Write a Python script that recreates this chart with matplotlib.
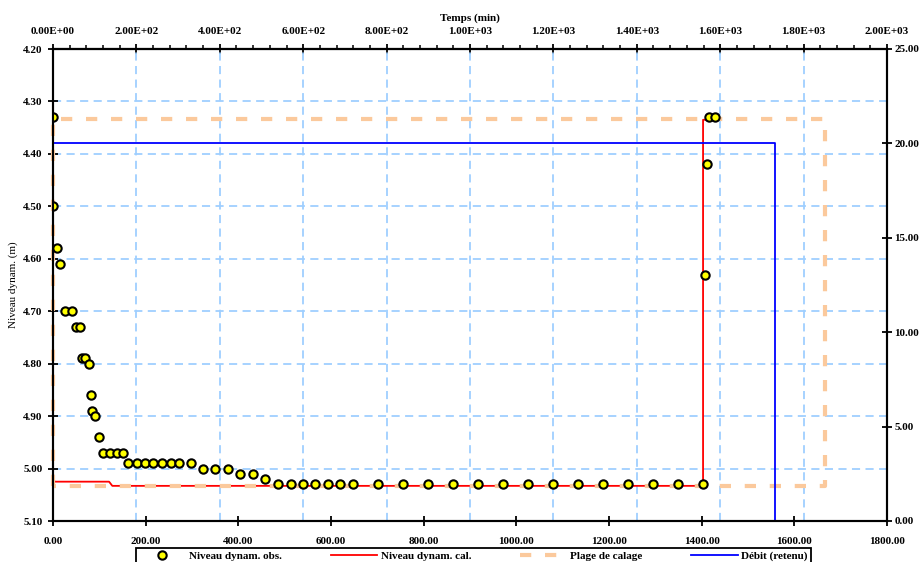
import matplotlib
matplotlib.use("Agg")
import matplotlib.pyplot as plt
from matplotlib.ticker import MultipleLocator, FormatStrFormatter, FuncFormatter

plt.rcParams['font.family'] = ['Liberation Serif', 'DejaVu Serif']
plt.rcParams['font.size'] = 8
plt.rcParams['font.weight'] = 'bold'

# niveaux observés (temps en min, niveau en m)
t_obs = [0, 0, 9, 15, 26, 41, 50, 58, 63, 69, 78, 82, 84, 91, 99,
         108, 123, 138, 151,
         162, 181, 199, 216, 235, 255, 272, 298,
         324, 350, 378, 404, 432, 458,
         486, 514, 540, 565, 593, 619, 647, 701, 755, 809, 863, 917,
         971, 1025, 1079, 1133, 1187, 1241, 1295, 1349, 1403,
         1407, 1411, 1416, 1429]
h_obs = [4.33, 4.50, 4.58, 4.61, 4.70, 4.70, 4.73, 4.73, 4.79, 4.79, 4.80, 4.86, 4.89, 4.90, 4.94,
         4.97, 4.97, 4.97, 4.97,
         4.99, 4.99, 4.99, 4.99, 4.99, 4.99, 4.99, 4.99,
         5.00, 5.00, 5.00, 5.01, 5.01, 5.02,
         5.03, 5.03, 5.03, 5.03, 5.03, 5.03, 5.03, 5.03, 5.03, 5.03, 5.03, 5.03,
         5.03, 5.03, 5.03, 5.03, 5.03, 5.03, 5.03, 5.03, 5.03,
         4.63, 4.42, 4.33, 4.33]

# niveaux calculés
t_cal = [0, 3, 121, 128, 1403, 1403, 1412]
h_cal = [5.01, 5.025, 5.025, 5.033, 5.033, 4.335, 4.335]

# plage de calage
t_plage = [0, 0, 1666, 1666, 0]
h_plage = [5.033, 4.333, 4.333, 5.033, 5.033]

# débit retenu (m3/h)
t_q = [0, 0, 1558, 1558, 1595]
q = [0, 20, 20, 0, 0]

fig = plt.figure(figsize=(9.21, 5.62), dpi=100)
ax = fig.add_axes([53 / 921, 41 / 562, 834 / 921, 472 / 562])

ax.set_xlim(0, 1800)
ax.set_ylim(5.10, 4.20)

# quadrillage (verticales sur l'axe du haut)
for yg in [4.30, 4.40, 4.50, 4.60, 4.70, 4.80, 4.90, 5.00]:
    ax.axhline(yg, color='#9fcfff', lw=1.3, ls=(0, (4.5, 3)), zorder=1)
for xg in range(200, 2000, 200):
    ax.axvline(xg * 1800 / 2000, color='#9fcfff', lw=1.3, ls=(0, (4.5, 3)), zorder=1)

l_cal, = ax.plot(t_cal, h_cal, color='#ff0000', lw=1.3, zorder=2.5, label='Niveau dynam. cal.')
l_plage, = ax.plot(t_plage, h_plage, color='#fbc99c', lw=3, ls=(0, (2.7, 3.3)),
                   zorder=3, clip_on=False, label='Plage de calage')
l_obs, = ax.plot(t_obs, h_obs, ls='none', marker='o', ms=6, mfc='#ffff00', mec='black',
                 mew=1.5, zorder=4, label='Niveau dynam. obs.')

ax.xaxis.set_major_locator(MultipleLocator(200))
ax.xaxis.set_major_formatter(FormatStrFormatter('%.2f'))
ax.yaxis.set_major_locator(MultipleLocator(0.1))
ax.yaxis.set_major_formatter(FormatStrFormatter('%.2f'))
ax.tick_params(axis='x', direction='inout', length=7, width=1.3, pad=8)
ax.tick_params(axis='y', direction='inout', length=7, width=1.3, pad=4)
ax.set_ylabel('Niveau dynam. (m)', labelpad=4)

# axe du haut : temps en notation scientifique
top = ax.secondary_xaxis('top', functions=(lambda x: x * 2000 / 1800, lambda x: x * 1800 / 2000))
top.xaxis.set_major_locator(MultipleLocator(200))
top.xaxis.set_minor_locator(MultipleLocator(40))
top.xaxis.set_major_formatter(FuncFormatter(lambda v, p: '%.2E' % v))
top.tick_params(axis='x', which='major', direction='inout', length=7, width=1.3, pad=6)
top.tick_params(axis='x', which='minor', direction='out', length=3, width=1.1)
top.set_xlabel('Temps (min)', fontweight='bold', labelpad=4)

# débit sur l'axe de droite
ax2 = ax.twinx()
ax2.set_ylim(0, 25)
l_q, = ax2.plot(t_q, q, color='#0000ff', lw=1.3, label='Débit (retenu)')
ax2.yaxis.set_major_locator(MultipleLocator(5))
ax2.yaxis.set_major_formatter(FormatStrFormatter('%.2f'))
ax2.tick_params(axis='y', direction='inout', length=7, width=1.3, pad=2)

for a in (ax, ax2):
    for s in a.spines.values():
        s.set_linewidth(1.5)
top.spines['top'].set_linewidth(1.5)

lg = fig.legend(handles=[l_obs, l_cal, l_plage, l_q], loc='upper left',
                bbox_to_anchor=(130 / 921, 1 - 542 / 562), ncol=4, frameon=True,
                fancybox=False, edgecolor='black', framealpha=1, fontsize=8,
                handlelength=4.2, columnspacing=4.4, borderpad=0.3, handletextpad=0.3)
lg.get_frame().set_linewidth(1.3)

fig.savefig('out.png', dpi=100)
